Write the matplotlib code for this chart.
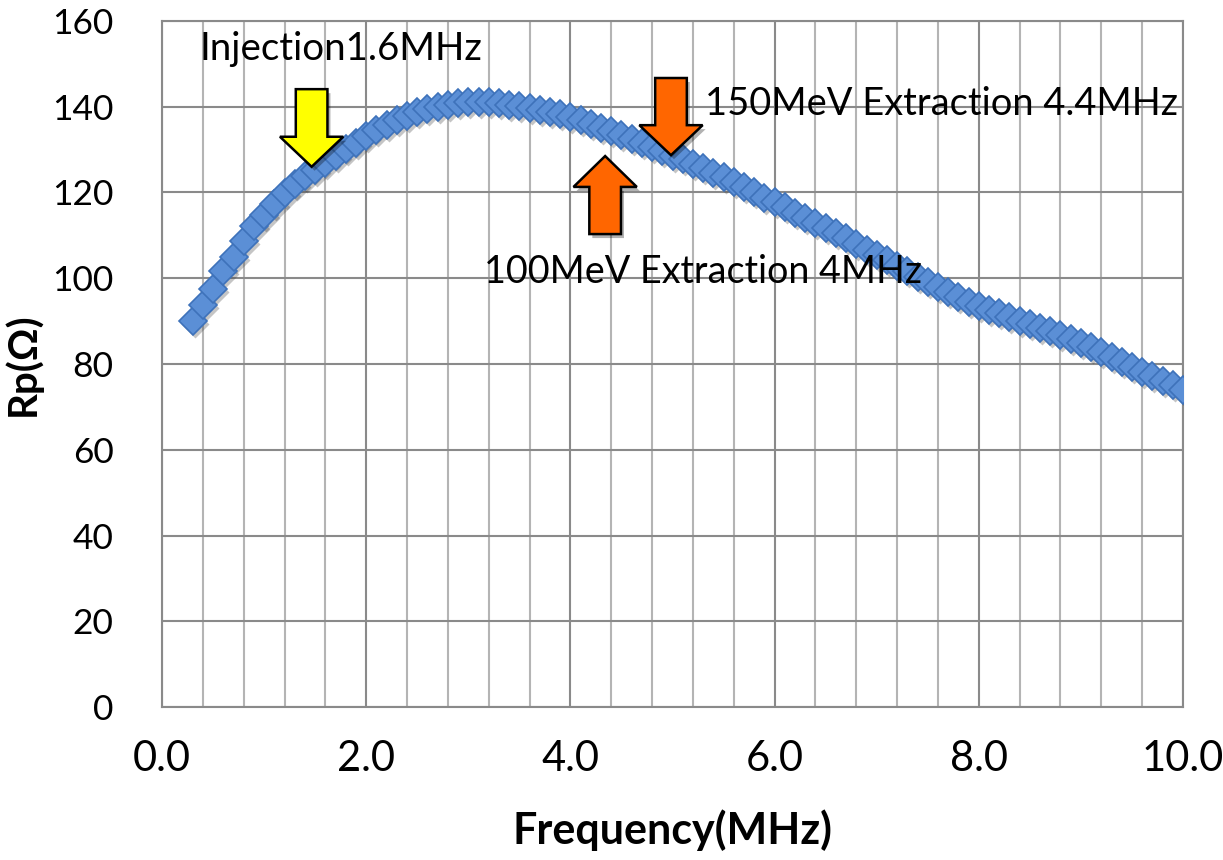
import numpy as np
import matplotlib
matplotlib.use("Agg")
import matplotlib.pyplot as plt
from matplotlib.patches import Polygon
from matplotlib import transforms

plt.rcParams['font.family'] = ['Lato', 'DejaVu Sans']

# Measured parallel resistance vs frequency
freq_mhz = [0.3, 0.4, 0.5, 0.6, 0.7, 0.8, 0.9, 1.0, 1.1, 1.2,
            1.3, 1.4, 1.5, 1.6, 1.7, 1.8, 1.9, 2.0, 2.1, 2.2,
            2.3, 2.4, 2.5, 2.6, 2.7, 2.8, 2.9, 3.0, 3.1, 3.2,
            3.3, 3.4, 3.5, 3.6, 3.7, 3.8, 3.9, 4.0, 4.1, 4.2,
            4.3, 4.4, 4.5, 4.6, 4.7, 4.8, 4.9, 5.0, 5.1, 5.2,
            5.3, 5.4, 5.5, 5.6, 5.7, 5.8, 5.9, 6.0, 6.1, 6.2,
            6.3, 6.4, 6.5, 6.6, 6.7, 6.8, 6.9, 7.0, 7.1, 7.2,
            7.3, 7.4, 7.5, 7.6, 7.7, 7.8, 7.9, 8.0, 8.1, 8.2,
            8.3, 8.4, 8.5, 8.6, 8.7, 8.8, 8.9, 9.0, 9.1, 9.2,
            9.3, 9.4, 9.5, 9.6, 9.7, 9.8, 9.9, 10.0]
rp_ohm = [90.0, 93.8, 97.6, 101.6, 105.0, 108.7, 112.1, 114.8, 117.4, 119.8,
          121.9, 123.8, 125.3, 126.8, 128.5, 130.1, 131.6, 133.1, 134.5, 135.8,
          137.0, 137.9, 138.7, 139.4, 140.0, 140.5, 140.8, 141.0, 141.1, 141.0,
          140.8, 140.5, 140.1, 139.6, 139.2, 138.8, 138.3, 137.6, 136.8, 136.0,
          135.1, 134.3, 133.4, 132.5, 131.5, 130.5, 129.6, 128.6, 127.7, 126.7,
          125.7, 124.6, 123.5, 122.4, 121.2, 120.0, 118.8, 117.7, 116.5, 115.3,
          114.1, 112.9, 111.7, 110.5, 109.3, 108.0, 106.7, 105.5, 104.2, 102.9,
          101.6, 100.4, 99.2, 98.0, 96.7, 95.6, 94.5, 93.5, 92.6, 91.8,
          91.0, 90.1, 89.3, 88.4, 87.6, 86.8, 85.8, 84.9, 83.9, 82.8,
          81.7, 80.5, 79.3, 78.1, 77.1, 76.0, 75.0, 74.0]

# arrow markers: (x centre, tail y, head base y, tip y)
injection_arrow = (1.465, 144.1, 133.0, 126.0)
ext150_arrow = (4.985, 146.7, 135.7, 128.7)
ext100_arrow = (4.34, 110.3, 121.3, 128.5)
shaft_w = 0.31
head_w = 0.62

fig = plt.figure(figsize=(12.23, 8.60), dpi=100)
ax = fig.add_axes([0.1325, 0.1779, 0.8348, 0.7977])

ax.set_xlim(0, 10)
ax.set_ylim(0, 160)
ax.set_xticks([0, 2, 4, 6, 8, 10])
ax.set_xticklabels(["0.0", "2.0", "4.0", "6.0", "8.0", "10.0"])
ax.set_xticks(np.arange(0, 10.01, 0.4), minor=True)
ax.set_yticks(np.arange(0, 161, 20))
ax.tick_params(axis='both', which='both', length=0)
ax.tick_params(axis='x', labelsize=30, pad=24)
ax.tick_params(axis='y', labelsize=25.5, pad=35)

ax.grid(which='minor', axis='x', color='#b4b4b4', lw=1.5)
ax.grid(which='major', axis='x', color='#8a8a8a', lw=1.5)
ax.grid(which='major', axis='y', color='#8a8a8a', lw=1.5)
for s in ax.spines.values():
    s.set_color('#8a8a8a')
    s.set_linewidth(1.5)
ax.set_axisbelow(True)

ax.set_xlabel("Frequency(MHz)", fontsize=31, fontweight='bold', va='center')
ax.set_ylabel("Rp(Ω)", fontsize=29, fontweight='bold', va='center')
ax.xaxis.set_label_coords(0.5, -0.179)
ax.yaxis.set_label_coords(-0.137, 0.5)

# drop shadow, then the markers
shadow = transforms.offset_copy(ax.transData, fig=fig, x=2, y=-3, units='dots')
ax.plot(freq_mhz, rp_ohm, ls='none', marker='D', ms=14, color='#404040',
        alpha=0.3, mec='none', transform=shadow, zorder=3)
ax.plot(freq_mhz, rp_ohm, ls='none', marker='D', ms=14, mfc='#5b8fd6',
        mec='#3e72ba', mew=1.2, zorder=4)


def block_arrow(spec, color):
    xc, tail, base, tip = spec
    pts = [(xc - shaft_w / 2, tail), (xc + shaft_w / 2, tail),
           (xc + shaft_w / 2, base), (xc + head_w / 2, base),
           (xc, tip), (xc - head_w / 2, base), (xc - shaft_w / 2, base)]
    sh = transforms.offset_copy(ax.transData, fig=fig, x=3, y=-4, units='dots')
    ax.add_patch(Polygon(pts, closed=True, fc='#000000', ec='none', alpha=0.3,
                         transform=sh, zorder=5))
    ax.add_patch(Polygon(pts, closed=True, fc=color, ec='black', lw=1.8,
                         zorder=6))


block_arrow(injection_arrow, '#ffff00')
block_arrow(ext150_arrow, '#ff6600')
block_arrow(ext100_arrow, '#ff6600')

ax.text(0.37, 153.5, "Injection1.6MHz", fontsize=27.7, va='center', ha='left', zorder=7)
ax.text(5.32, 140.6, "150MeV Extraction 4.4MHz", fontsize=27.4, va='center', ha='left', zorder=7)
ax.text(3.15, 101.5, "100MeV Extraction 4MHz", fontsize=27.2, va='center', ha='left', zorder=7)

fig.savefig("out.png", dpi=100)
